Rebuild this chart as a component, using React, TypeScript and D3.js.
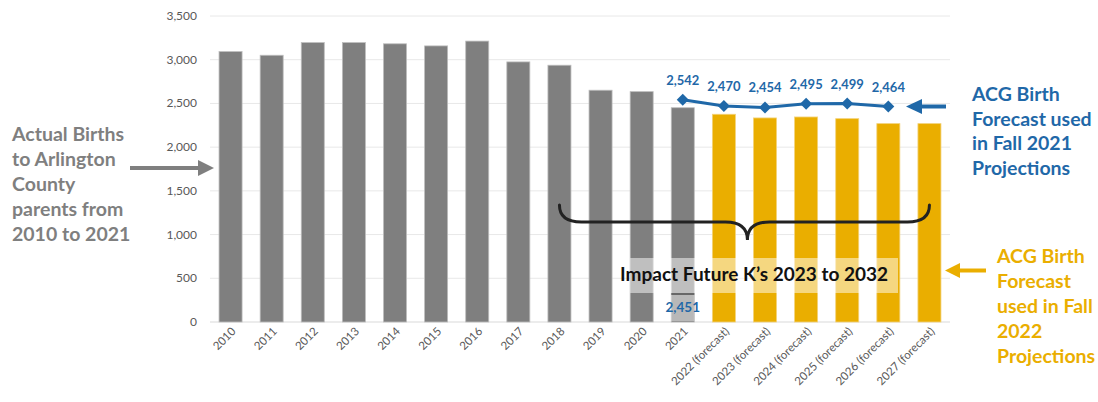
import React from "react";
import * as d3 from "d3";

const categories = [
  "2010", "2011", "2012", "2013", "2014", "2015", "2016", "2017", "2018", "2019", "2020", "2021",
  "2022 (forecast)", "2023 (forecast)", "2024 (forecast)", "2025 (forecast)", "2026 (forecast)", "2027 (forecast)",
];
const births = [3093, 3051, 3196, 3196, 3182, 3158, 3213, 2975, 2937, 2651, 2635, 2451, 2376, 2334, 2345, 2326, 2269, 2269];
const isForecast = [false, false, false, false, false, false, false, false, false, false, false, false, true, true, true, true, true, true];
const fall2021Years = ["2021", "2022 (forecast)", "2023 (forecast)", "2024 (forecast)", "2025 (forecast)", "2026 (forecast)"];
const fall2021Values = [2542, 2470, 2454, 2495, 2499, 2464];
const yTicks = [0, 500, 1000, 1500, 2000, 2500, 3000, 3500];
const leftNote = ["Actual Births", "to Arlington", "County", "parents from", "2010 to 2021"];
const blueNote = ["ACG Birth", "Forecast used", "in Fall 2021", "Projections"];
const goldNote = ["ACG Birth", "Forecast", "used in Fall", "2022", "Projections"];
const braceLabel = "Impact Future K\u2019s 2023 to 2032";
const actual2021Label = "2,451";

const W = 1098;
const H = 402;
const FONT = "Lato, 'Open Sans', sans-serif";
const GRAY = "#7f7f7f";
const GOLD = "#eaae00";
const BLUE = "#1f68a8";
const TXT = "#595959";

export default function App() {
  const x = d3.scaleBand<string>().domain(categories).range([210, 950]).paddingInner(0.44).paddingOuter(0.22);
  const y = d3.scaleLinear().domain([0, 3500]).range([322, 16]);
  const fmt = d3.format(",");
  const cx = (c: string) => (x(c) ?? 0) + x.bandwidth() / 2;

  const line = d3
    .line<number>()
    .x((_, i) => cx(fall2021Years[i]))
    .y((d) => y(d));

  // brace
  const bx0 = cx("2018");
  const bx1 = cx("2027 (forecast)");
  const bxm = (bx0 + bx1) / 2 + 3;
  const yTop = 205, yMid = 222, yBot = 240, r = 22;
  const brace = `M${bx0},${yTop} Q${bx0},${yMid} ${bx0 + r},${yMid} L${bxm - r},${yMid} Q${bxm},${yMid} ${bxm},${yBot} Q${bxm},${yMid} ${bxm + r},${yMid} L${bx1 - r},${yMid} Q${bx1},${yMid} ${bx1},${yTop}`;

  const boxX0 = x("2020") ?? 0;
  const boxX1 = 898;

  return (
    <svg width={W} height={H} style={{ display: "block", position: "absolute", left: 0, top: 0, background: "#fff" }} fontFamily={FONT}>
      {/* gridlines */}
      {yTicks.map((t) => (
        <line key={t} x1={210} x2={950} y1={y(t)} y2={y(t)} stroke={t === 0 ? "#d9d9d9" : "#e8e8e8"} strokeWidth={1} />
      ))}
      {yTicks.map((t) => (
        <text key={"l" + t} x={197} y={y(t) + 4} textAnchor="end" fontSize={12} fill={TXT}>
          {fmt(t)}
        </text>
      ))}
      {/* bars */}
      {categories.map((c, i) => (
        <rect
          key={c}
          x={x(c)}
          y={y(births[i])}
          width={x.bandwidth()}
          height={y(0) - y(births[i])}
          fill={isForecast[i] ? GOLD : GRAY}
          stroke={isForecast[i] ? "#f3d37a" : "#bdbdbd"}
          strokeWidth={0.8}
        />
      ))}
      {/* x labels */}
      {categories.map((c) => (
        <text
          key={"x" + c}
          transform={`translate(${cx(c) + 6},${332}) rotate(-45)`}
          textAnchor="end"
          fontSize={11.5}
          fill={TXT}
        >
          {c}
        </text>
      ))}
      {/* translucent band behind brace label */}
      <rect x={boxX0} y={258} width={boxX1 - boxX0} height={35} fill="#fff" opacity={0.5} />
      <line x1={x("2021")} x2={(x("2021") ?? 0) + x.bandwidth()} y1={294} y2={294} stroke="#5f5f5f" strokeWidth={1.5} />
      <rect x={x("2021")} y={295} width={x.bandwidth()} height={26} fill="#fff" opacity={0.45} />
      <text x={cx("2021")} y={312} textAnchor="middle" fontSize={13.5} fontWeight={700} fill={BLUE}>
        {actual2021Label}
      </text>
      <text x={(boxX0 + boxX1) / 2 - 10} y={281} textAnchor="middle" fontSize={19} fontWeight={700} fill="#111">
        {braceLabel}
      </text>
      {/* brace */}
      <path d={brace} fill="none" stroke="#222" strokeWidth={3} strokeLinecap="round" />
      {/* Fall 2021 line */}
      <path d={line(fall2021Values) ?? ""} fill="none" stroke={BLUE} strokeWidth={3} />
      {fall2021Values.map((v, i) => {
        const px = cx(fall2021Years[i]);
        const py = y(v);
        return (
          <g key={"m" + i}>
            <path d={`M${px},${py - 6} L${px + 6},${py} L${px},${py + 6} L${px - 6},${py} Z`} fill={BLUE} />
            <text x={px} y={py - 15} textAnchor="middle" fontSize={13} fontWeight={700} fill={BLUE}>
              {fmt(v)}
            </text>
          </g>
        );
      })}
      {/* left note */}
      {leftNote.map((s, i) => (
        <text key={"ln" + i} x={12} y={141 + i * 25} fontSize={19.5} fontWeight={700} fill={GRAY}>
          {s}
        </text>
      ))}
      <line x1={130} x2={200} y1={168} y2={168} stroke={GRAY} strokeWidth={4} />
      <path d="M214,168 L198,160 L198,176 Z" fill={GRAY} />
      {/* blue note */}
      {blueNote.map((s, i) => (
        <text key={"bn" + i} x={972} y={101 + i * 24.5} fontSize={19.5} fontWeight={700} fill={BLUE}>
          {s}
        </text>
      ))}
      <line x1={920} x2={946} y1={106.5} y2={106.5} stroke={BLUE} strokeWidth={4} />
      <path d="M906,106.5 L922,99 L922,114 Z" fill={BLUE} />
      {/* gold note */}
      {goldNote.map((s, i) => (
        <text key={"gn" + i} x={997} y={263 + i * 25} fontSize={19.5} fontWeight={700} fill={GOLD}>
          {s}
        </text>
      ))}
      <line x1={958} x2={986} y1={270.5} y2={270.5} stroke={GOLD} strokeWidth={4} />
      <path d="M945,270.5 L960,263 L960,278 Z" fill={GOLD} />
    </svg>
  );
}
